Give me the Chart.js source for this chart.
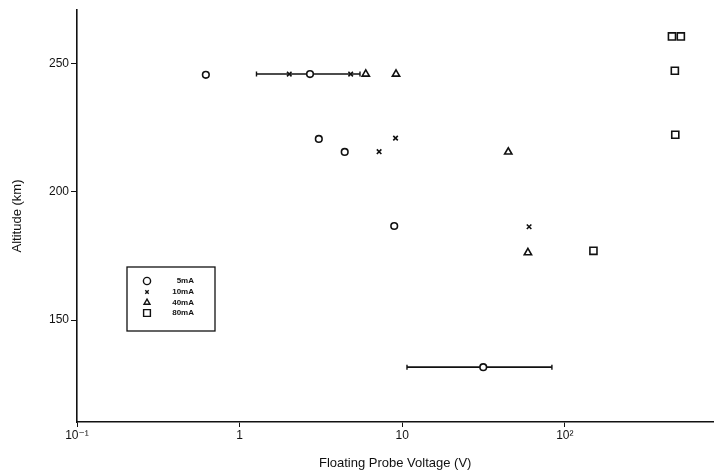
<!DOCTYPE html>
<html>
<head>
<meta charset="utf-8">
<script src="https://cdn.jsdelivr.net/npm/chart.js@4.4.1/dist/chart.umd.min.js"></script>
<style>
  html, body { margin: 0; padding: 0; background: #fff; }
  #wrap { width: 720px; height: 471px; position: relative; }
</style>
</head>
<body>
<div id="wrap"><canvas id="c" width="720" height="471"></canvas></div>
<script>
// ---- Data ----
const seriesNames = ["5mA", "10mA", "40mA", "80mA"];

const voltage5mA  = [0.62, 2.71, 3.07, 4.43, 8.93, 31.5];
const altitude5mA = [245.7, 246.0, 220.7, 215.6, 186.7, 131.6];

const voltage10mA  = [2.02, 4.82, 7.21, 9.1, 60.3];
const altitude10mA = [246.0, 246.0, 215.7, 221.0, 186.4];

const voltage40mA  = [5.97, 9.16, 44.9, 59.3];
const altitude40mA = [246.0, 246.0, 215.6, 176.3];

const voltage80mA  = [456, 517, 475, 478, 150];
const altitude80mA = [260.7, 260.7, 247.3, 222.3, 177.0];

// horizontal error bars (5 mA)
const errLow  = [1.27, 10.7];
const errHigh = [5.5, 83.3];
const errAlt  = [246.0, 131.6];

const xTickValues = [0.1, 1, 10, 100];
const xTickLabels = ["10\u207B\u00B9", "1", "10", "10\u00B2"];
const yTickValues = [150, 200, 250];

// ---- Build datasets ----
const toPts = (xs, ys) => xs.map((x, i) => ({ x: x, y: ys[i] }));
const markerStyles = [
  { pointStyle: 'circle',   radius: 3.3 },
  { pointStyle: 'crossRot', radius: 3.2 },
  { pointStyle: 'triangle', radius: 4.2 },
  { pointStyle: 'rect',     radius: 5 }
];
const allX = [voltage5mA, voltage10mA, voltage40mA, voltage80mA];
const allY = [altitude5mA, altitude10mA, altitude40mA, altitude80mA];

const datasets = [];
errLow.forEach((lo, i) => {
  datasets.push({
    label: 'err' + i,
    data: [{ x: lo, y: errAlt[i] }, { x: errHigh[i], y: errAlt[i] }],
    showLine: true,
    borderColor: '#111',
    borderWidth: 1.6,
    pointStyle: 'line',
    pointRotation: 90,
    pointRadius: 2.5,
    pointBorderColor: '#111',
    pointBorderWidth: 1.4,
    order: 2
  });
});
seriesNames.forEach((name, i) => {
  datasets.push({
    label: name,
    data: toPts(allX[i], allY[i]),
    showLine: false,
    pointStyle: markerStyles[i].pointStyle,
    pointRadius: markerStyles[i].radius,
    pointBackgroundColor: '#fff',
    pointBorderColor: '#111',
    pointBorderWidth: 1.6,
    order: 1
  });
});

// ---- Inner legend box ----
const innerLegend = {
  id: 'innerLegend',
  afterDraw(chart) {
    const ctx = chart.ctx;
    const bx = 127, by = 267, bw = 88, bh = 64;
    ctx.save();
    ctx.strokeStyle = '#111';
    ctx.lineWidth = 1.3;
    ctx.strokeRect(bx, by, bw, bh);
    const rowY = [281, 292, 302.5, 313];
    ctx.textAlign = 'right';
    ctx.textBaseline = 'middle';
    seriesNames.forEach((name, i) => {
      const ms = markerStyles[i];
      const r = [3.6, 2.4, 3.4, 4.8][i];
      ctx.fillStyle = '#fff';
      ctx.strokeStyle = '#111';
      ctx.lineWidth = 1.4;
      Chart.helpers.drawPoint(ctx, {
        pointStyle: ms.pointStyle, radius: r, rotation: 0,
        borderWidth: 1.4
      }, 147, rowY[i]);
      ctx.fillStyle = '#111';
      ctx.font = 'bold 8px "Liberation Sans", Arial, sans-serif';
      ctx.fillText(name, 194, rowY[i]);
    });
    ctx.restore();
  }
};

Chart.defaults.font.family = '"Liberation Sans", "DejaVu Sans", Arial, sans-serif';
Chart.defaults.color = '#111';

new Chart(document.getElementById('c'), {
  type: 'scatter',
  data: { datasets: datasets },
  options: {
    responsive: false,
    animation: false,
    layout: { padding: { left: 0, right: 5, top: 10, bottom: 0 } },
    plugins: { legend: { display: false }, tooltip: { enabled: false } },
    scales: {
      x: {
        type: 'logarithmic',
        min: 0.1,
        max: 820,
        afterBuildTicks: (s) => { s.ticks = xTickValues.map(v => ({ value: v })); },
        afterFit: (s) => { s.height = 49; },
        ticks: {
          autoSkip: false,
          maxRotation: 0,
          padding: 1,
          font: { size: 12 },
          color: '#111',
          callback: (v) => { const k = xTickValues.indexOf(v); return k >= 0 ? xTickLabels[k] : ''; }
        },
        grid: { display: true, drawOnChartArea: false, drawTicks: true, tickLength: 5, color: '#111', lineWidth: 1 },
        border: { display: true, color: '#111', width: 1.6 },
        title: {
          display: true,
          text: 'Floating Probe Voltage (V)',
          font: { size: 13 },
          color: '#111',
          padding: { top: 0, bottom: 0 }
        }
      },
      y: {
        type: 'linear',
        min: 110.2,
        max: 271,
        afterBuildTicks: (s) => { s.ticks = yTickValues.map(v => ({ value: v })); },
        afterFit: (s) => { s.width = 77; },
        ticks: {
          autoSkip: false,
          padding: 2,
          font: { size: 12 },
          color: '#111'
        },
        grid: { display: true, drawOnChartArea: false, drawTicks: true, tickLength: 6, color: '#111', lineWidth: 1 },
        border: { display: true, color: '#111', width: 1.6 },
        title: {
          display: true,
          text: 'Altitude (km)',
          font: { size: 13 },
          color: '#111',
          padding: { top: 10, bottom: 0 }
        }
      }
    }
  },
  plugins: [innerLegend]
});
</script>
</body>
</html>
